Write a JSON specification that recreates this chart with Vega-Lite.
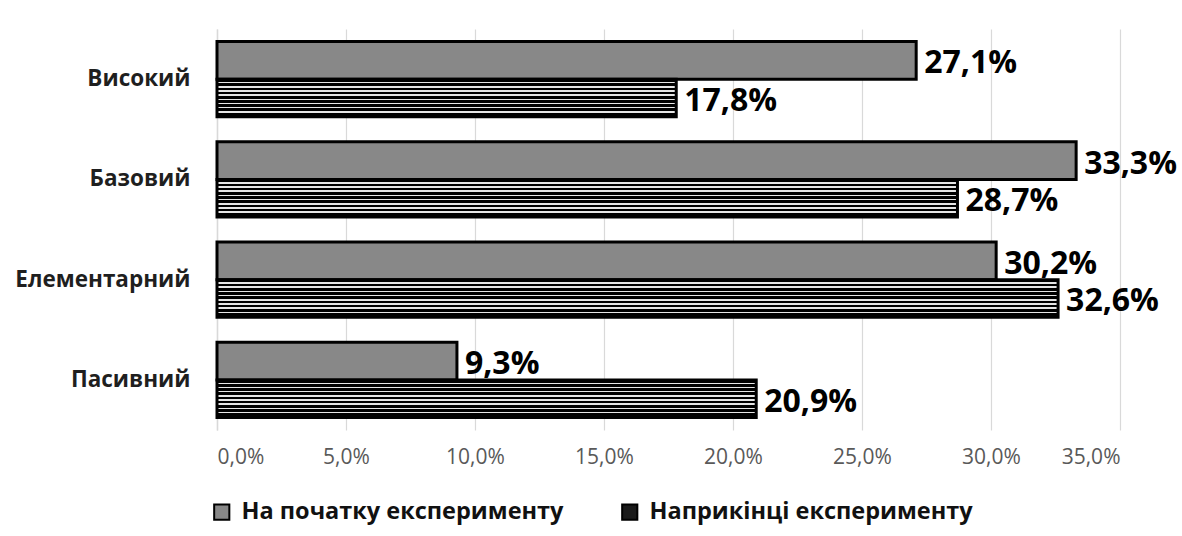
{
  "$schema": "https://vega.github.io/schema/vega-lite/v6.json",
  "width": 903,
  "height": 401,
  "autosize": {"type": "none"},
  "padding": {"left": 217, "top": 29, "right": 62, "bottom": 106},
  "background": "white",
  "config": {
    "view": {"stroke": null},
    "locale": {"number": {"decimal": ",", "thousands": " ", "grouping": [3], "currency": ["", " ₴"]}},
    "font": "Open Sans"
  },
  "data": {
    "values": [
      {"level": "Високий", "series": "На початку експерименту", "value": 0.271},
      {"level": "Високий", "series": "Наприкінці експерименту", "value": 0.178},
      {"level": "Базовий", "series": "На початку експерименту", "value": 0.333},
      {"level": "Базовий", "series": "Наприкінці експерименту", "value": 0.287},
      {"level": "Елементарний", "series": "На початку експерименту", "value": 0.302},
      {"level": "Елементарний", "series": "Наприкінці експерименту", "value": 0.326},
      {"level": "Пасивний", "series": "На початку експерименту", "value": 0.093},
      {"level": "Пасивний", "series": "Наприкінці експерименту", "value": 0.209}
    ]
  },
  "encoding": {
    "y": {
      "field": "level", "type": "nominal",
      "sort": ["Високий", "Базовий", "Елементарний", "Пасивний"],
      "scale": {"paddingInner": 0.247, "paddingOuter": 0.1235},
      "axis": {
        "title": null, "ticks": false, "domain": true, "domainColor": "#d9d9d9", "domainWidth": 1.5,
        "labelFont": "Open Sans", "labelFontWeight": "bold", "labelFontSize": 22.5, "labelColor": "#1f1f1f",
        "labelPadding": 27
      }
    },
    "yOffset": {
      "field": "series", "type": "nominal",
      "sort": ["На початку експерименту", "Наприкінці експерименту"],
      "scale": {"paddingInner": 0, "paddingOuter": 0}
    },
    "x": {
      "field": "value", "type": "quantitative",
      "scale": {"domain": [0, 0.35], "nice": false},
      "axis": {
        "title": null, "format": ".1%", "values": [0, 0.05, 0.1, 0.15, 0.2, 0.25, 0.3, 0.35],
        "grid": true, "gridColor": "#d9d9d9", "gridWidth": 1.2, "domain": false, "ticks": false,
        "labelFont": "Open Sans", "labelFontSize": 21, "labelColor": "#595959", "labelPadding": 16
      }
    }
  },
  "layer": [
    {
      "mark": {"type": "bar", "stroke": "#000000", "strokeWidth": 3, "strokeJoin": "miter"},
      "encoding": {
        "fill": {
          "condition": {
            "test": "datum.series === 'Наприкінці експерименту'",
            "value": {
              "gradient": "linear", "x1": 0, "y1": 0, "x2": 0, "y2": 1,
              "stops": [
                {"offset": 0.0, "color": "#000000"}, {"offset": 0.07, "color": "#000000"}, {"offset": 0.07, "color": "#e6e6e6"}, {"offset": 0.111, "color": "#e6e6e6"},
                {"offset": 0.111, "color": "#000000"}, {"offset": 0.181, "color": "#000000"}, {"offset": 0.181, "color": "#e6e6e6"}, {"offset": 0.222, "color": "#e6e6e6"},
                {"offset": 0.222, "color": "#000000"}, {"offset": 0.292, "color": "#000000"}, {"offset": 0.292, "color": "#e6e6e6"}, {"offset": 0.333, "color": "#e6e6e6"},
                {"offset": 0.333, "color": "#000000"}, {"offset": 0.403, "color": "#000000"}, {"offset": 0.403, "color": "#e6e6e6"}, {"offset": 0.444, "color": "#e6e6e6"},
                {"offset": 0.444, "color": "#000000"}, {"offset": 0.514, "color": "#000000"}, {"offset": 0.514, "color": "#e6e6e6"}, {"offset": 0.555, "color": "#e6e6e6"},
                {"offset": 0.555, "color": "#000000"}, {"offset": 0.625, "color": "#000000"}, {"offset": 0.625, "color": "#e6e6e6"}, {"offset": 0.666, "color": "#e6e6e6"},
                {"offset": 0.666, "color": "#000000"}, {"offset": 0.736, "color": "#000000"}, {"offset": 0.736, "color": "#e6e6e6"}, {"offset": 0.777, "color": "#e6e6e6"},
                {"offset": 0.777, "color": "#000000"}, {"offset": 0.847, "color": "#000000"}, {"offset": 0.847, "color": "#e6e6e6"}, {"offset": 0.888, "color": "#e6e6e6"},
                {"offset": 0.888, "color": "#000000"}, {"offset": 1.0, "color": "#000000"}
              ]
            }
          },
          "field": "series", "type": "nominal",
          "scale": {
            "domain": ["На початку експерименту", "Наприкінці експерименту"],
            "range": ["#888888", "#1a1a1a"]
          },
          "legend": {
            "title": null, "orient": "none", "direction": "horizontal", "legendX": -7, "legendY": 471,
            "symbolType": "square", "symbolSize": 230, "symbolStrokeColor": "#000000", "symbolStrokeWidth": 2,
            "labelFont": "Open Sans", "labelFontWeight": "bold", "labelFontSize": 23.5, "labelColor": "#111111",
            "labelOffset": 8, "columnPadding": 54, "labelLimit": 600
          }
        }
      }
    },
    {
      "mark": {"type": "text", "align": "left", "baseline": "middle", "dx": 8, "dy": 3,
               "font": "Open Sans", "fontWeight": "bold", "fontSize": 32, "color": "#000000"},
      "encoding": {
        "text": {"field": "value", "type": "quantitative", "format": ".1%"}
      }
    }
  ]
}
